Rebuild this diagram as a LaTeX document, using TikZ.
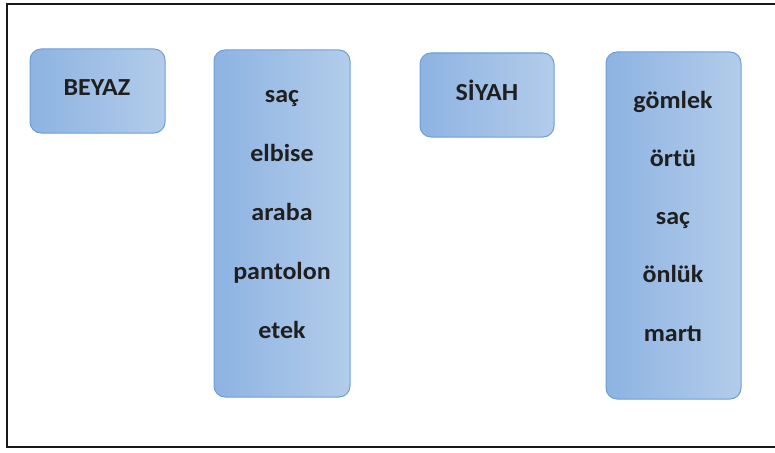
\documentclass[tikz,border=0pt]{standalone}
\usepackage{fontspec}
\setmainfont{Carlito}
\usetikzlibrary{positioning}
\definecolor{boxL}{HTML}{8DB3E2}
\definecolor{boxR}{HTML}{B3CCEA}
\definecolor{boxD}{HTML}{6C9FD9}
\begin{document}
\begin{tikzpicture}[x=1pt,y=-1pt,
  cbox/.style={draw=boxD, line width=1pt, rounded corners=11pt, left color=boxL, right color=boxR},
  lbl/.style={font=\fontsize{24.5}{28}\selectfont\bfseries, text=black!88, anchor=base, xscale=1.06}]
\useasboundingbox (0,0) rectangle (775,452);
\draw[line width=1.8pt, black!90] (7,4) rectangle (780,447);
% boxes
\path[cbox] (30,49) rectangle (165,133);
\path[cbox] (214,50) rectangle (350,397);
\path[cbox] (420,53) rectangle (554,137);
\path[cbox] (606,52) rectangle (741,399);
\node[lbl] (beyaz) at (97,95) {BEYAZ};
\node[lbl] (siyah) at (487,100) {SİYAH};
\node[lbl] (l1) at (282,102) {saç};
\node[lbl] (l2) at (282,161) {elbise};
\node[lbl] (l3) at (282,220) {araba};
\node[lbl] (l4) at (282,279) {pantolon};
\node[lbl] (l5) at (282,338) {etek};
\node[lbl] (r1) at (673,108) {gömlek};
\node[lbl] (r2) at (673,166) {örtü};
\node[lbl] (r3) at (673,224) {saç};
\node[lbl] (r4) at (673,282) {önlük};
\node[lbl] (r5) at (673,341) {martı};
\end{tikzpicture}
\end{document}
